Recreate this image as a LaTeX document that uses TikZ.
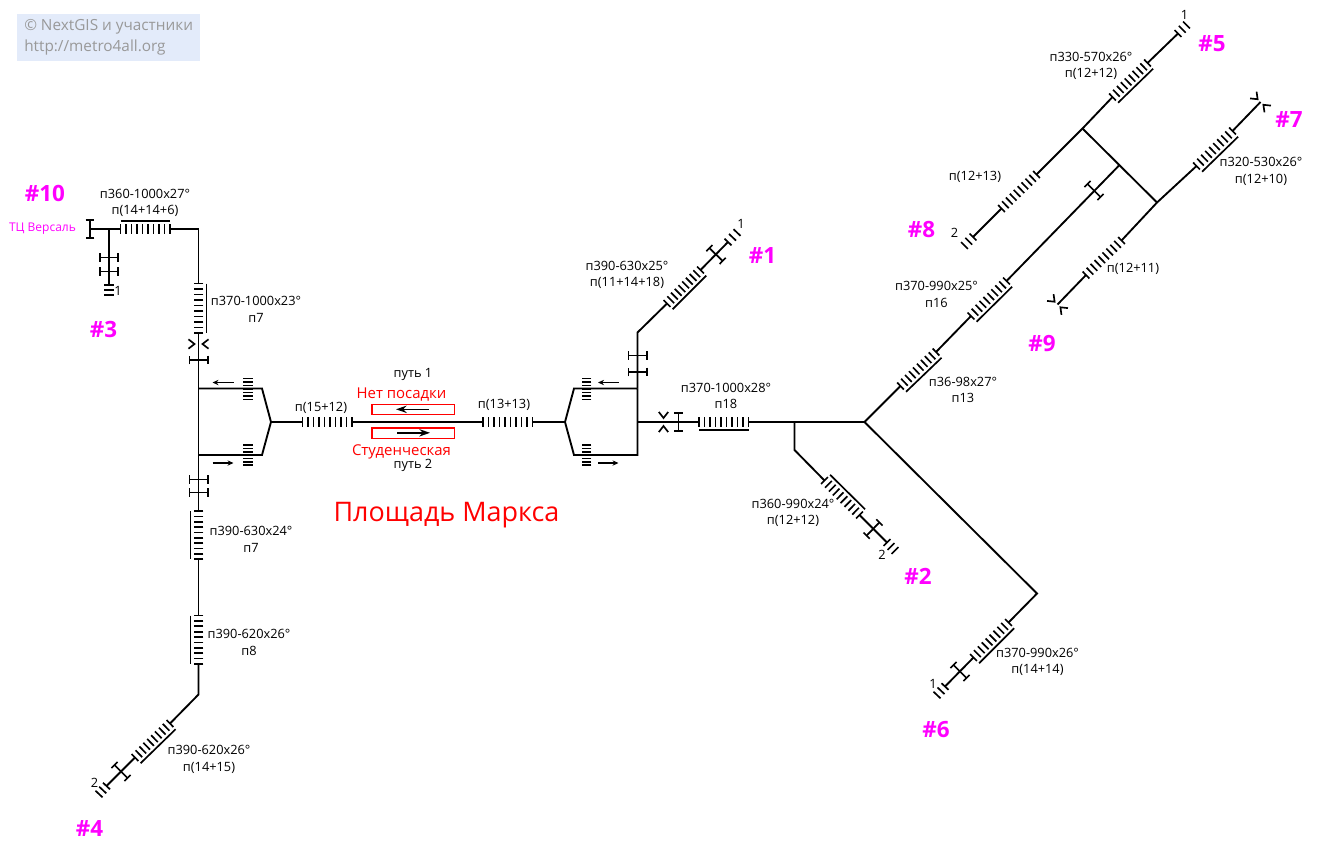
\documentclass[tikz,border=0pt]{standalone}
\usepackage{fontspec}
\setmainfont{Open Sans}
\usetikzlibrary{calc, arrows.meta}
\definecolor{platform}{HTML}{FF0000}
\definecolor{exitno}{HTML}{FF00FF}
\definecolor{creditbg}{HTML}{E3EBFA}
\definecolor{creditfg}{HTML}{999999}

% steps between two points, #3 = number of gaps
\newcommand{\flight}[3]{
  \coordinate (upa) at ($(#1)!3.6pt!90:(#2)$);
  \coordinate (dna) at ($(#1)!3.6pt!-90:(#2)$);
  \coordinate (upb) at ($(#2)!3.6pt!-90:(#1)$);
  \coordinate (dnb) at ($(#2)!3.6pt!90:(#1)$);
  \foreach \i in {0,...,#3} {
    \draw[tread] ($(upa)!\i/#3!(upb)$) -- ($(dna)!\i/#3!(dnb)$);
  }
}
% same, with the handrail on side #3 (90 = left of the way #1 to #2)
\newcommand{\escalator}[3]{
  \flight{#1}{#2}{9}
  \draw[tread] ($(#1)!6pt!#3:(#2)$) -- ($(#2)!6pt!-#3:(#1)$);
}
\newcommand{\turnstile}[2]{
  \draw[barrier] ($(#1)!7.5pt!90:(#2)$) -- ($(#1)!7.5pt!-90:(#2)$);
}
\newcommand{\gate}[2]{
  \foreach \s/\l/\r in {90/115/65, -90/-65/-115} {
    \draw[tread] ($(#1)!8.3pt!\l:(#2)$) -- ($(#1)!3pt!\s:(#2)$) -- ($(#1)!8.3pt!\r:(#2)$);
  }
}

\begin{document}
\begin{tikzpicture}[
  x=0.75pt, y=-0.75pt,
  every node/.style={
    inner sep=0pt, font=\fontsize{9.6}{12.4}\selectfont, align=center,
  },
  track/.style={line width=1.4pt, line join=miter},
  tread/.style={line width=1.25pt},
  barrier/.style={
    line width=1.3pt,
    {Bar[width=6.6pt,line width=1.2pt]}-{Bar[width=6.6pt,line width=1.2pt]}
  },
  exitlabel/.style={
    text=exitno, font=\fontsize{16.8}{18}\selectfont\bfseries
  },
  stationtext/.style={
    text=platform, font=\fontsize{11.2}{13}\selectfont
  },
  doorbox/.style={draw=platform, line width=1pt},
  pointer/.style={line width=1.1pt, -{Stealth[length=4.5pt,width=4pt]}},
  ]
  \useasboundingbox (0,0) rectangle (1323,844);

  % credit
  \fill[creditbg] (17,14) rectangle (200,61);
  \node[anchor=west, text=creditfg, font=\fontsize{11.5}{15.8}\selectfont, align=left]
    (credit) at (24,37.5) {© NextGIS и участники\\http://metro4all.org};

  % left side
  \coordinate (ws1) at (198.5,388.5);
  \coordinate (ws2) at (198.5,455);
  \coordinate (wtop) at (198.5,229);
  \coordinate (t10) at (90,229);
  \coordinate (t3) at (109,229);
  \coordinate (e10a) at (120.5,229);
  \coordinate (e10b) at (170,229);
  \coordinate (t3a) at (109,257.5);
  \coordinate (t3b) at (109,271.5);
  \coordinate (s3a) at (109,285);
  \coordinate (s3b) at (109,295);
  \coordinate (e7a) at (198.5,283.5);
  \coordinate (e7b) at (198.5,333);
  \coordinate (g7) at (198.5,344);
  \coordinate (t7) at (198.5,360);
  \draw[track] (t10) -- (e10a);
  \draw[track] (e10b) -- (wtop) -- (e7a);
  \draw[track] (t3) -- (s3a);
  \draw[track] (e7b) -- (ws2);
  \turnstile{t10}{e10a}
  \turnstile{t3a}{t3b}
  \turnstile{t3b}{s3b}
  \flight{s3a}{s3b}{2}
  \escalator{e10a}{e10b}{90}
  \escalator{e7a}{e7b}{90}
  \gate{g7}{e7b}
  \turnstile{t7}{ws1}

  \coordinate (t4a) at (198.5,479.5);
  \coordinate (t4b) at (198.5,492.5);
  \coordinate (e4a) at (198.5,511);
  \coordinate (e4b) at (198.5,559);
  \coordinate (e5a) at (198.5,615.5);
  \coordinate (e5b) at (198.5,664);
  \coordinate (c4) at (198.5,694.5);
  \coordinate (e6a) at (170,723.5);
  \coordinate (e6b) at (135,757.5);
  \coordinate (t6) at (121,771.5);
  \coordinate (s6a) at (106.5,786);
  \coordinate (s6b) at (99,794);
  \draw[track] (ws2) -- (e4a);
  \draw[track] (e4b) -- (e5a);
  \draw[track] (e5b) -- (c4) -- (e6a);
  \draw[track] (e6b) -- (s6a);
  \turnstile{t4a}{t4b}
  \turnstile{t4b}{e4a}
  \escalator{e4a}{e4b}{-90}
  \escalator{e5a}{e5b}{-90}
  \escalator{e6a}{e6b}{90}
  \turnstile{t6}{e6b}
  \flight{s6a}{s6b}{2}

  % station, left end
  \coordinate (lk1) at (262,388.5);
  \coordinate (lk2) at (262,455);
  \coordinate (lj) at (271,422);
  \coordinate (em1a) at (302.5,422);
  \coordinate (em1b) at (352,422);
  \coordinate (em2a) at (483,422);
  \coordinate (em2b) at (532.5,422);
  \coordinate (rj) at (565,422);
  \coordinate (rk1) at (574,388.5);
  \coordinate (rk2) at (574,455);
  \coordinate (es1) at (637.5,388.5);
  \coordinate (es2) at (637.5,455);
  \coordinate (em) at (637.5,422);
  \draw[track] (ws1) -- (lk1) -- (lj) -- (lk2) -- (ws2);
  \draw[track] (lj) -- (em1a);
  \draw[track] (em1b) -- (em2a);
  \draw[track] (em2b) -- (rj);
  \draw[track] (es1) -- (rk1) -- (rj) -- (rk2) -- (es2) -- (es1);
  \flight{em1a}{em1b}{9}
  \flight{em2a}{em2b}{9}

  % platform steps
  \coordinate (ps1a) at (248,378.5);
  \coordinate (ps1b) at (248,399.5);
  \coordinate (ps2a) at (248,445);
  \coordinate (ps2b) at (248,465);
  \coordinate (ps3a) at (586.5,378.5);
  \coordinate (ps3b) at (586.5,399.5);
  \coordinate (ps4a) at (586.5,445);
  \coordinate (ps4b) at (586.5,465);
  \flight{ps1a}{ps1b}{6}
  \flight{ps2a}{ps2b}{6}
  \flight{ps3a}{ps3b}{6}
  \flight{ps4a}{ps4b}{6}

  \coordinate (ar1a) at (233.5,382.5);
  \coordinate (ar1b) at (212.5,382.5);
  \coordinate (ar2a) at (212.5,463);
  \coordinate (ar2b) at (233.5,463);
  \coordinate (ar3a) at (618.5,382.5);
  \coordinate (ar3b) at (598,382.5);
  \coordinate (ar4a) at (598,463);
  \coordinate (ar4b) at (618.5,463);
  \draw[pointer] (ar1a) -- (ar1b);
  \draw[pointer] (ar2a) -- (ar2b);
  \draw[pointer] (ar3a) -- (ar3b);
  \draw[pointer] (ar4a) -- (ar4b);

  % doors
  \draw[doorbox] (372,404.2) rectangle (454.5,414.6);
  \draw[doorbox] (372,428) rectangle (454.5,438.4);
  \coordinate (d1a) at (428.5,409.3);
  \coordinate (d1b) at (396,409.3);
  \coordinate (d2a) at (397,432.8);
  \coordinate (d2b) at (430,432.8);
  \draw[pointer, line width=1.2pt, -{Stealth[length=8pt,width=5.5pt]}] (d1a) -- (d1b);
  \draw[pointer, line width=1.2pt, -{Stealth[length=8pt,width=5.5pt]}] (d2a) -- (d2b);

  % right side, exit 1
  \coordinate (t1a) at (637.5,355.5);
  \coordinate (t1b) at (637.5,372);
  \coordinate (c1) at (637.5,332.5);
  \coordinate (e1a) at (667,303.5);
  \coordinate (e1b) at (700.5,270);
  \coordinate (t1c) at (716,254.5);
  \coordinate (s1a) at (728,242);
  \coordinate (s1b) at (737,232.5);
  \draw[track] (es1) -- (c1) -- (e1a);
  \draw[track] (e1b) -- (s1a);
  \turnstile{t1a}{t1b}
  \turnstile{t1b}{es1}
  \escalator{e1a}{e1b}{-90}
  \turnstile{t1c}{s1a}
  \flight{s1a}{s1b}{2}

  % main hall to the east
  \coordinate (g18) at (663.5,422);
  \coordinate (t18) at (678.5,422);
  \coordinate (e18a) at (699,422);
  \coordinate (e18b) at (748.5,422);
  \coordinate (j2) at (794.5,422);
  \coordinate (jm) at (864.5,422);
  \draw[track] (em) -- (e18a);
  \draw[track] (e18b) -- (jm);
  \gate{g18}{t18}
  \turnstile{t18}{e18a}
  \escalator{e18a}{e18b}{-90}

  % exit 2
  \coordinate (c2) at (794.5,450);
  \coordinate (e2a) at (824.5,480.5);
  \coordinate (e2b) at (859.5,515);
  \coordinate (t2) at (873,529);
  \coordinate (s2a) at (887,542.5);
  \coordinate (s2b) at (895,550.5);
  \draw[track] (j2) -- (c2) -- (e2a);
  \draw[track] (e2b) -- (s2a);
  \escalator{e2a}{e2b}{90}
  \turnstile{t2}{s2a}
  \flight{s2a}{s2b}{2}

  % exit 6
  \coordinate (c6) at (1037,593.5);
  \coordinate (e8a) at (1008.5,622.5);
  \coordinate (e8b) at (973.5,657.5);
  \coordinate (t8) at (960,671.5);
  \coordinate (s8a) at (945,686.5);
  \coordinate (s8b) at (937,695);
  \draw[track] (jm) -- (c6) -- (e8a);
  \draw[track] (e8b) -- (s8a);
  \escalator{e8a}{e8b}{90}
  \turnstile{t8}{s8a}
  \flight{s8a}{s8b}{2}

  % long diagonal to the north east
  \coordinate (e13a) at (900.5,386);
  \coordinate (e13b) at (936,352);
  \coordinate (e16a) at (971,316);
  \coordinate (e16b) at (1006.5,281);
  \coordinate (t16) at (1094,190.5);
  \coordinate (jc) at (1119,165.5);
  \draw[track] (jm) -- (e13a);
  \draw[track] (e13b) -- (e16a);
  \draw[track] (e16b) -- (jc);
  \escalator{e13a}{e13b}{-90}
  \escalator{e16a}{e16b}{-90}
  \turnstile{t16}{jc}

  % cross passage, exits 5 and 8
  \coordinate (ju) at (1082.5,128.5);
  \coordinate (jl) at (1157,202.5);
  \coordinate (e5ta) at (1112.5,97);
  \coordinate (e5tb) at (1147.5,63);
  \coordinate (s5a) at (1178,33.5);
  \coordinate (s5b) at (1186.5,25);
  \coordinate (e8ta) at (1036.5,174.5);
  \coordinate (e8tb) at (1001.5,208.5);
  \coordinate (s9a) at (973,237);
  \coordinate (s9b) at (964.5,245.5);
  \draw[track] (ju) -- (jl);
  \draw[track] (e8ta) -- (ju) -- (e5ta);
  \draw[track] (e5tb) -- (s5a);
  \draw[track] (e8tb) -- (s9a);
  \escalator{e5ta}{e5tb}{-90}
  \flight{e8ta}{e8tb}{9}
  \flight{s5a}{s5b}{2}
  \flight{s9a}{s9b}{2}

  % exits 7 and 9
  \coordinate (e7ta) at (1196.5,166);
  \coordinate (e7tb) at (1232.5,131);
  \coordinate (g7t) at (1260.5,102);
  \coordinate (e9a) at (1121.5,240.5);
  \coordinate (e9b) at (1086,275);
  \coordinate (g9) at (1057.5,304.5);
  \draw[track] (e9a) -- (jl) -- (e7ta);
  \draw[track] (e7tb) -- (g7t);
  \draw[track] (e9b) -- (g9);
  \escalator{e7ta}{e7tb}{-90}
  \flight{e9a}{e9b}{9}
  \gate{g7t}{e7tb}
  \gate{g9}{e9b}

  % texts
  \begin{scope}[yshift=-0.7pt]
  \node[exitlabel] (ex10) at (45,193) {\#10};
  \node[exitlabel] (ex3) at (103.5,329) {\#3};
  \node[exitlabel] (ex4) at (89.5,828) {\#4};
  \node[exitlabel] (ex1) at (762.5,255) {\#1};
  \node[exitlabel] (ex2) at (918,575) {\#2};
  \node[exitlabel] (ex6) at (936,729) {\#6};
  \node[exitlabel] (ex5) at (1212,43) {\#5};
  \node[exitlabel] (ex7) at (1289,118.5) {\#7};
  \node[exitlabel] (ex8) at (921.5,229) {\#8};
  \node[exitlabel] (ex9) at (1042,343) {\#9};
  \node[text=exitno, font=\fontsize{9}{10}\selectfont] (versal) at (42.5,228) {ТЦ Версаль};

  \node[stationtext] (noboard) at (401.5,394) {Нет посадки};
  \node[stationtext] (stud) at (401.5,451) {Студенческая};
  \node[text=platform, font=\fontsize{20.2}{22}\selectfont] (title) at (446.5,514.5) {Площадь Маркса};
  \node (way1) at (413,374) {путь 1};
  \node (way2) at (413,464) {путь 2};

  \node (l10) at (145,202) {п360-1000x27°\\п(14+14+6)};
  \node (l7) at (256,308.5) {п370-1000x23°\\п7};
  \node (l4a) at (251,538.5) {п390-630x24°\\п7};
  \node (l4b) at (249,641.5) {п390-620x26°\\п8};
  \node (l4c) at (209,758.5) {п390-620x26°\\п(14+15)};
  \node (lm1) at (321,407) {п(15+12)};
  \node (lm2) at (504,404) {п(13+13)};
  \node (l1) at (627,274) {п390-630x25°\\п(11+14+18)};
  \node (l18) at (726,395) {п370-1000x28°\\п18};
  \node (l2) at (793,512) {п360-990x24°\\п(12+12)};
  \node (l6) at (1037.5,661) {п370-990x26°\\п(14+14)};
  \node (l13) at (963,389) {п36-98x27°\\п13};
  \node (l16) at (936.5,293.5) {п370-990x25°\\п16};
  \node (l5) at (1091,65) {п330-570x26°\\п(12+12)};
  \node (l8) at (975,176) {п(12+13)};
  \node (l9) at (1133,268) {п(12+11)};
  \node (l7t) at (1261,170.5) {п320-530x26°\\п(12+10)};

  \node (n3) at (118,290) {1};
  \node (n4) at (94.5,782) {2};
  \node (n1) at (741,223) {1};
  \node (n2) at (882,554) {2};
  \node (n6) at (933,683) {1};
  \node (n5) at (1184.5,13.5) {1};
  \node (n8) at (954.5,231.5) {2};
  \end{scope}
\end{tikzpicture}
\end{document}
